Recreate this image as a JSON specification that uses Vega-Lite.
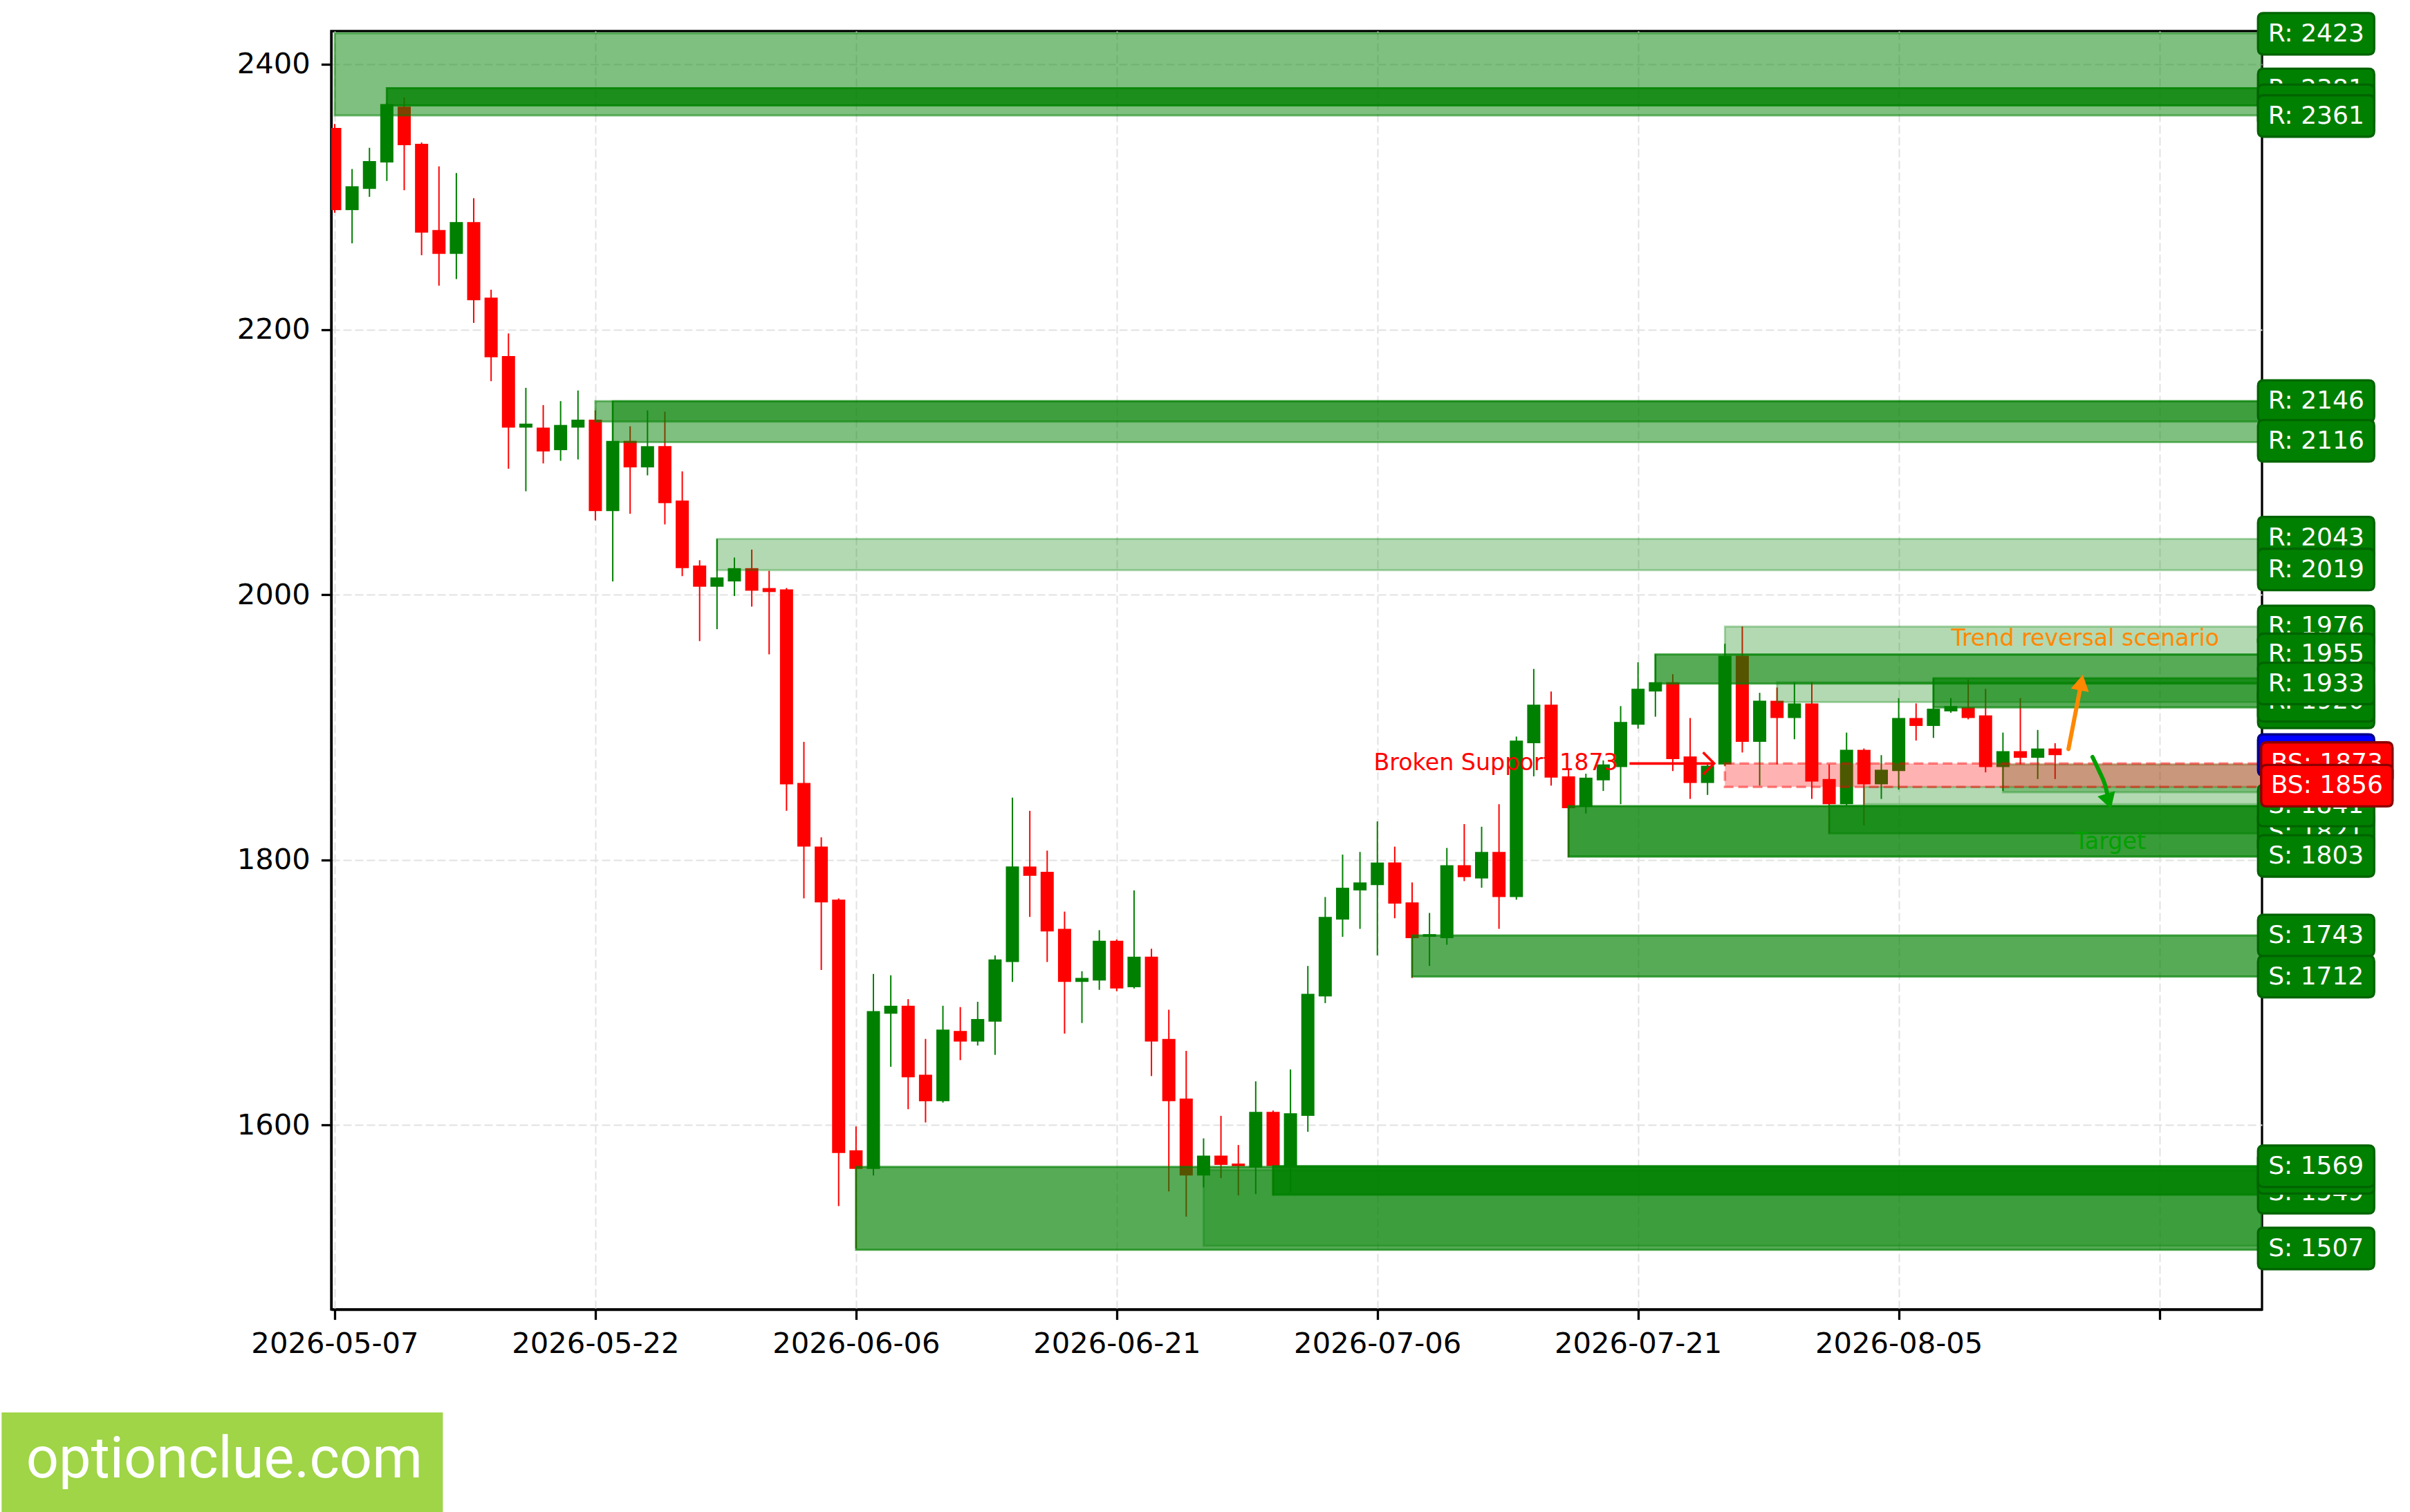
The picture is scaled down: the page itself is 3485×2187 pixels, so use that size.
{
  "$schema": "https://vega.github.io/schema/vega-lite/v6.json",
  "width": 2792,
  "height": 1849,
  "autosize": {"type": "none"},
  "padding": {"left": 479, "top": 45, "right": 214, "bottom": 293},
  "background": "white",
  "config": {
    "view": {"stroke": "#000000", "strokeWidth": 3.3},
    "axis": {
      "labelFont": "DejaVu Sans", "labelFontSize": 41.7, "labelColor": "#000000", "labelLimit": 0,
      "domainColor": "#000000", "domainWidth": 3.3,
      "tickColor": "#000000", "tickWidth": 3.3, "tickSize": 14.6,
      "gridColor": "#e2e2e2", "gridDash": [12, 5], "gridWidth": 2
    },
    "text": {"font": "DejaVu Sans"}
  },
  "datasets": {
    "candles": [
      {"date":"2026-05-07","open":2352,"high":2355,"low":2288,"close":2290},
      {"date":"2026-05-08","open":2290,"high":2321,"low":2265,"close":2308},
      {"date":"2026-05-09","open":2306,"high":2337,"low":2300,"close":2327},
      {"date":"2026-05-10","open":2326,"high":2371,"low":2312,"close":2370},
      {"date":"2026-05-11","open":2368,"high":2375,"low":2305,"close":2339},
      {"date":"2026-05-12","open":2340,"high":2341,"low":2256,"close":2273},
      {"date":"2026-05-13","open":2275,"high":2323,"low":2233,"close":2257},
      {"date":"2026-05-14","open":2257,"high":2318,"low":2238,"close":2281},
      {"date":"2026-05-15","open":2281,"high":2299,"low":2205,"close":2222},
      {"date":"2026-05-16","open":2224,"high":2230,"low":2161,"close":2179},
      {"date":"2026-05-17","open":2180,"high":2197,"low":2095,"close":2126},
      {"date":"2026-05-18","open":2126,"high":2156,"low":2078,"close":2129},
      {"date":"2026-05-19","open":2126,"high":2143,"low":2099,"close":2108},
      {"date":"2026-05-20","open":2109,"high":2146,"low":2101,"close":2128},
      {"date":"2026-05-21","open":2126,"high":2154,"low":2102,"close":2132},
      {"date":"2026-05-22","open":2132,"high":2139,"low":2056,"close":2063},
      {"date":"2026-05-23","open":2063,"high":2146,"low":2010,"close":2116},
      {"date":"2026-05-24","open":2116,"high":2127,"low":2061,"close":2096},
      {"date":"2026-05-25","open":2096,"high":2139,"low":2090,"close":2112},
      {"date":"2026-05-26","open":2112,"high":2138,"low":2053,"close":2069},
      {"date":"2026-05-27","open":2071,"high":2093,"low":2014,"close":2020},
      {"date":"2026-05-28","open":2022,"high":2026,"low":1965,"close":2006},
      {"date":"2026-05-29","open":2006,"high":2042,"low":1974,"close":2013},
      {"date":"2026-05-30","open":2010,"high":2028,"low":1999,"close":2020},
      {"date":"2026-05-31","open":2020,"high":2034,"low":1991,"close":2003},
      {"date":"2026-06-01","open":2005,"high":2018,"low":1955,"close":2002},
      {"date":"2026-06-02","open":2004,"high":2005,"low":1837,"close":1857},
      {"date":"2026-06-03","open":1858,"high":1889,"low":1771,"close":1810},
      {"date":"2026-06-04","open":1810,"high":1817,"low":1717,"close":1768},
      {"date":"2026-06-05","open":1770,"high":1771,"low":1539,"close":1579},
      {"date":"2026-06-06","open":1581,"high":1599,"low":1507,"close":1567},
      {"date":"2026-06-07","open":1567,"high":1714,"low":1562,"close":1686},
      {"date":"2026-06-08","open":1684,"high":1713,"low":1644,"close":1690},
      {"date":"2026-06-09","open":1690,"high":1695,"low":1612,"close":1636},
      {"date":"2026-06-10","open":1638,"high":1665,"low":1602,"close":1618},
      {"date":"2026-06-11","open":1618,"high":1690,"low":1617,"close":1672},
      {"date":"2026-06-12","open":1671,"high":1689,"low":1649,"close":1663},
      {"date":"2026-06-13","open":1663,"high":1693,"low":1660,"close":1680},
      {"date":"2026-06-14","open":1678,"high":1728,"low":1653,"close":1725},
      {"date":"2026-06-15","open":1723,"high":1847,"low":1708,"close":1795},
      {"date":"2026-06-16","open":1795,"high":1837,"low":1757,"close":1788},
      {"date":"2026-06-17","open":1791,"high":1807,"low":1723,"close":1746},
      {"date":"2026-06-18","open":1748,"high":1761,"low":1669,"close":1708},
      {"date":"2026-06-19","open":1708,"high":1716,"low":1677,"close":1711},
      {"date":"2026-06-20","open":1709,"high":1747,"low":1702,"close":1739},
      {"date":"2026-06-21","open":1739,"high":1740,"low":1701,"close":1703},
      {"date":"2026-06-22","open":1704,"high":1777,"low":1703,"close":1727},
      {"date":"2026-06-23","open":1727,"high":1733,"low":1637,"close":1663},
      {"date":"2026-06-24","open":1665,"high":1687,"low":1550,"close":1618},
      {"date":"2026-06-25","open":1620,"high":1656,"low":1531,"close":1562},
      {"date":"2026-06-26","open":1562,"high":1590,"low":1553,"close":1577},
      {"date":"2026-06-27","open":1577,"high":1607,"low":1560,"close":1570},
      {"date":"2026-06-28","open":1571,"high":1585,"low":1547,"close":1569},
      {"date":"2026-06-29","open":1568,"high":1633,"low":1548,"close":1610},
      {"date":"2026-06-30","open":1610,"high":1611,"low":1547,"close":1569},
      {"date":"2026-07-01","open":1569,"high":1642,"low":1549,"close":1609},
      {"date":"2026-07-02","open":1607,"high":1720,"low":1595,"close":1699},
      {"date":"2026-07-03","open":1697,"high":1772,"low":1692,"close":1757},
      {"date":"2026-07-04","open":1755,"high":1804,"low":1742,"close":1779},
      {"date":"2026-07-05","open":1777,"high":1806,"low":1748,"close":1783},
      {"date":"2026-07-06","open":1781,"high":1829,"low":1728,"close":1798},
      {"date":"2026-07-07","open":1798,"high":1810,"low":1756,"close":1767},
      {"date":"2026-07-08","open":1768,"high":1783,"low":1711,"close":1741},
      {"date":"2026-07-09","open":1742,"high":1760,"low":1720,"close":1744},
      {"date":"2026-07-10","open":1741,"high":1809,"low":1736,"close":1796},
      {"date":"2026-07-11","open":1796,"high":1827,"low":1784,"close":1787},
      {"date":"2026-07-12","open":1786,"high":1825,"low":1779,"close":1806},
      {"date":"2026-07-13","open":1806,"high":1842,"low":1748,"close":1772},
      {"date":"2026-07-14","open":1772,"high":1893,"low":1770,"close":1890},
      {"date":"2026-07-15","open":1888,"high":1944,"low":1863,"close":1917},
      {"date":"2026-07-16","open":1917,"high":1927,"low":1856,"close":1862},
      {"date":"2026-07-17","open":1863,"high":1868,"low":1802,"close":1839},
      {"date":"2026-07-18","open":1840,"high":1865,"low":1835,"close":1862},
      {"date":"2026-07-19","open":1860,"high":1875,"low":1852,"close":1872},
      {"date":"2026-07-20","open":1870,"high":1916,"low":1842,"close":1904},
      {"date":"2026-07-21","open":1902,"high":1949,"low":1899,"close":1929},
      {"date":"2026-07-22","open":1927,"high":1955,"low":1908,"close":1934},
      {"date":"2026-07-23","open":1934,"high":1940,"low":1867,"close":1876},
      {"date":"2026-07-24","open":1878,"high":1907,"low":1846,"close":1858},
      {"date":"2026-07-25","open":1858,"high":1873,"low":1849,"close":1871},
      {"date":"2026-07-26","open":1872,"high":1963,"low":1871,"close":1954},
      {"date":"2026-07-27","open":1954,"high":1976,"low":1881,"close":1889},
      {"date":"2026-07-28","open":1889,"high":1926,"low":1856,"close":1920},
      {"date":"2026-07-29","open":1920,"high":1930,"low":1872,"close":1907},
      {"date":"2026-07-30","open":1907,"high":1934,"low":1891,"close":1918},
      {"date":"2026-07-31","open":1918,"high":1934,"low":1846,"close":1859},
      {"date":"2026-08-01","open":1861,"high":1872,"low":1820,"close":1842},
      {"date":"2026-08-02","open":1842,"high":1896,"low":1841,"close":1883},
      {"date":"2026-08-03","open":1883,"high":1884,"low":1826,"close":1857},
      {"date":"2026-08-04","open":1857,"high":1879,"low":1846,"close":1868},
      {"date":"2026-08-05","open":1867,"high":1922,"low":1853,"close":1907},
      {"date":"2026-08-06","open":1907,"high":1918,"low":1890,"close":1901},
      {"date":"2026-08-07","open":1901,"high":1937,"low":1892,"close":1914},
      {"date":"2026-08-08","open":1912,"high":1922,"low":1911,"close":1916},
      {"date":"2026-08-09","open":1915,"high":1936,"low":1906,"close":1907},
      {"date":"2026-08-10","open":1909,"high":1929,"low":1866,"close":1870},
      {"date":"2026-08-11","open":1870,"high":1896,"low":1852,"close":1882},
      {"date":"2026-08-12","open":1882,"high":1922,"low":1872,"close":1877},
      {"date":"2026-08-13","open":1877,"high":1898,"low":1861,"close":1884},
      {"date":"2026-08-14","open":1884,"high":1888,"low":1861,"close":1879}
    ],
    "zones": [
      {"kind":"R","start":"2026-05-07","top":2423.5,"bottom":2361.4,"strength":"moderate"},
      {"kind":"R","start":"2026-05-10","top":2382,"bottom":2369,"strength":"major"},
      {"kind":"R","start":"2026-05-22","top":2146,"bottom":2130.5,"strength":"moderate"},
      {"kind":"R","start":"2026-05-23","top":2146,"bottom":2115,"strength":"moderate"},
      {"kind":"R","start":"2026-05-29","top":2042,"bottom":2018.5,"strength":"weak"},
      {"kind":"R","start":"2026-07-22","top":1955,"bottom":1933,"strength":"strong"},
      {"kind":"R","start":"2026-07-26","top":1976,"bottom":1954.5,"strength":"weak"},
      {"kind":"R","start":"2026-07-29","top":1934,"bottom":1919,"strength":"weak"},
      {"kind":"R","start":"2026-08-07","top":1937,"bottom":1915,"strength":"strong"},
      {"kind":"S","start":"2026-06-06","top":1568.5,"bottom":1506,"strength":"strong"},
      {"kind":"S","start":"2026-06-26","top":1566,"bottom":1509,"strength":"weak"},
      {"kind":"S","start":"2026-06-30","top":1569,"bottom":1547.5,"strength":"extreme"},
      {"kind":"S","start":"2026-07-08","top":1743,"bottom":1712,"strength":"strong"},
      {"kind":"S","start":"2026-07-17","top":1840.5,"bottom":1802.5,"strength":"major"},
      {"kind":"S","start":"2026-08-01","top":1841,"bottom":1820,"strength":"moderate"},
      {"kind":"S","start":"2026-08-03","top":1855,"bottom":1842,"strength":"weak"},
      {"kind":"S","start":"2026-08-11","top":1872,"bottom":1851,"strength":"weak"}
    ],
    "broken": [
      {"kind":"BS","start":"2026-07-26","top":1872.7,"bottom":1855}
    ],
    "labels_back": [
      {"kind":"R","level":2423,"text":"R: 2423"},
      {"kind":"R","level":2381,"text":"R: 2381"},
      {"kind":"R","level":2146,"text":"R: 2146"},
      {"kind":"R","level":2043,"text":"R: 2043"},
      {"kind":"R","level":1976,"text":"R: 1976"},
      {"kind":"R","level":1915,"text":"R: 1915"},
      {"kind":"P","level":1879,"text":"P: 1879"},
      {"kind":"S","level":1821,"text":"S: 1821"},
      {"kind":"S","level":1743,"text":"S: 1743"},
      {"kind":"S","level":1549,"text":"S: 1549"},
      {"kind":"S","level":1507,"text":"S: 1507"}
    ],
    "labels_mid": [
      {"kind":"R","level":2369,"text":"R: 2369"},
      {"kind":"R","level":2116,"text":"R: 2116"},
      {"kind":"R","level":2019,"text":"R: 2019"},
      {"kind":"R","level":1955,"text":"R: 1955"},
      {"kind":"R","level":1920,"text":"R: 1920"},
      {"kind":"S","level":1841,"text":"S: 1841"},
      {"kind":"S","level":1712,"text":"S: 1712"},
      {"kind":"S","level":1564,"text":"S: 1564"}
    ],
    "labels_front": [
      {"kind":"R","level":2361,"text":"R: 2361"},
      {"kind":"R","level":1933,"text":"R: 1933"},
      {"kind":"S","level":1803,"text":"S: 1803"},
      {"kind":"S","level":1569,"text":"S: 1569"}
    ],
    "labels_bs_back": [
      {"kind":"BS","level":1873,"text":"BS: 1873"}
    ],
    "labels_bs_front": [
      {"kind":"BS","level":1856,"text":"BS: 1856"}
    ]
  },
  "layer": [
    {
      "data": {"name": "candles"},
      "mark": {"type": "rule", "strokeWidth": 2, "clip": true},
      "encoding": {
        "x": {"field": "date", "type": "temporal",
              "scale": {"type": "utc", "nice": false, "domain": [{"year":2026,"month":5,"date":7,"utc":true},{"year":2026,"month":8,"date":25,"hours":17,"utc":true}]},
              "axis": {"title": null, "grid": true, "labelFlush": false, "labelOverlap": false, "labelPadding": 14.6, "labelLimit": 0,
                       "values": [{"year":2026,"month":5,"date":7,"utc":true},{"year":2026,"month":5,"date":22,"utc":true},{"year":2026,"month":6,"date":6,"utc":true},{"year":2026,"month":6,"date":21,"utc":true},{"year":2026,"month":7,"date":6,"utc":true},{"year":2026,"month":7,"date":21,"utc":true},{"year":2026,"month":8,"date":5,"utc":true},{"year":2026,"month":8,"date":20,"utc":true}],
                       "labelExpr": "utcFormat(datum.value, '%m-%d') == '08-20' ? '' : utcFormat(datum.value, '%Y-%m-%d')"}},
        "y": {"field": "low", "type": "quantitative",
              "scale": {"domain": [1461, 2425], "nice": false, "zero": false},
              "axis": {"title": null, "grid": true, "values": [1600, 1800, 2000, 2200, 2400], "format": "d", "labelPadding": 16, "labelLimit": 0}},
        "y2": {"field": "high"},
        "color": {"condition": {"test": "datum.close >= datum.open", "value": "#008000"}, "value": "#ff0000"}
      }
    },
    {
      "data": {"name": "candles"},
      "mark": {"type": "bar", "width": 19, "clip": true},
      "encoding": {
        "x": {"field": "date", "type": "temporal", "scale": {"type": "utc", "nice": false, "domain": [{"year":2026,"month":5,"date":7,"utc":true},{"year":2026,"month":8,"date":25,"hours":17,"utc":true}]}},
        "y": {"field": "open", "type": "quantitative", "scale": {"domain": [1461, 2425], "nice": false, "zero": false}},
        "y2": {"field": "close"},
        "color": {"condition": {"test": "datum.close >= datum.open", "value": "#008000"}, "value": "#ff0000"}
      }
    },
    {
      "data": {"name": "zones"},
      "mark": {"type": "rect", "fill": "#008000", "stroke": "#008000", "strokeWidth": 3, "clip": true},
      "encoding": {
        "x": {"field": "start", "type": "temporal", "scale": {"type": "utc", "nice": false, "domain": [{"year":2026,"month":5,"date":7,"utc":true},{"year":2026,"month":8,"date":25,"hours":17,"utc":true}]}},
        "x2": {"value": "width"},
        "y": {"field": "top", "type": "quantitative", "scale": {"domain": [1461, 2425], "nice": false, "zero": false}},
        "y2": {"field": "bottom"},
        "fillOpacity": {"field": "strength", "type": "nominal", "scale": {"type": "ordinal", "domain": ["weak","moderate","strong","major","extreme"], "range": [0.3, 0.5, 0.66, 0.78, 0.85]}, "legend": null},
        "strokeOpacity": {"field": "strength", "type": "nominal", "scale": {"type": "ordinal", "domain": ["weak","moderate","strong","major","extreme"], "range": [0.3, 0.5, 0.66, 0.78, 0.85]}, "legend": null}
      }
    },
    {
      "data": {"name": "broken"},
      "mark": {"type": "rect", "fill": "#ff0000", "fillOpacity": 0.3, "stroke": "#ff0000", "strokeOpacity": 0.45, "strokeWidth": 3.5, "strokeDash": [14, 7], "clip": true},
      "encoding": {
        "x": {"field": "start", "type": "temporal", "scale": {"type": "utc", "nice": false, "domain": [{"year":2026,"month":5,"date":7,"utc":true},{"year":2026,"month":8,"date":25,"hours":17,"utc":true}]}},
        "x2": {"value": "width"},
        "y": {"field": "top", "type": "quantitative", "scale": {"domain": [1461, 2425], "nice": false, "zero": false}},
        "y2": {"field": "bottom"}
      }
    },
    {
      "data": {"values": [
        {"t1":"2026-07-20T12:14:00Z","t2":"2026-07-25T09:07:00Z","p":1872.7}
      ]},
      "mark": {"type": "rule", "color": "#ff0000", "strokeWidth": 3.6},
      "encoding": {
        "x": {"field": "t1", "type": "temporal", "scale": {"type": "utc", "nice": false, "domain": [{"year":2026,"month":5,"date":7,"utc":true},{"year":2026,"month":8,"date":25,"hours":17,"utc":true}]}},
        "x2": {"field": "t2"},
        "y": {"field": "p", "type": "quantitative", "scale": {"domain": [1461, 2425], "nice": false, "zero": false}}
      }
    },
    {
      "data": {"values": [
        {"t":"2026-07-25T09:07:00Z","p":1872.7}
      ]},
      "mark": {"type": "point", "shape": "M -1 -1 L 0 0 L -1 1", "size": 1024, "filled": false, "color": "#ff0000", "strokeWidth": 3.6, "opacity": 1},
      "encoding": {
        "x": {"field": "t", "type": "temporal", "scale": {"type": "utc", "nice": false, "domain": [{"year":2026,"month":5,"date":7,"utc":true},{"year":2026,"month":8,"date":25,"hours":17,"utc":true}]}},
        "y": {"field": "p", "type": "quantitative", "scale": {"domain": [1461, 2425], "nice": false, "zero": false}}
      }
    },
    {
      "data": {"values": [
        {"arrow":"reversal","t":"2026-08-14T18:30:00Z","p":1883.6},
        {"arrow":"reversal","t":"2026-08-15T12:14:00Z","p":1933.7},
        {"arrow":"target","t":"2026-08-16T03:43:00Z","p":1877.6},
        {"arrow":"target","t":"2026-08-16T13:12:00Z","p":1866.6},
        {"arrow":"target","t":"2026-08-16T20:53:00Z","p":1856.7},
        {"arrow":"target","t":"2026-08-17T01:41:00Z","p":1845.8}
      ]},
      "mark": {"type": "line", "strokeWidth": 6, "strokeCap": "round", "interpolate": "monotone"},
      "encoding": {
        "x": {"field": "t", "type": "temporal", "scale": {"type": "utc", "nice": false, "domain": [{"year":2026,"month":5,"date":7,"utc":true},{"year":2026,"month":8,"date":25,"hours":17,"utc":true}]}},
        "y": {"field": "p", "type": "quantitative", "scale": {"domain": [1461, 2425], "nice": false, "zero": false}},
        "color": {"field": "arrow", "type": "nominal", "scale": {"domain": ["reversal", "target"], "range": ["#ff8800", "#00a000"]}, "legend": null}
      }
    },
    {
      "data": {"values": [{"t":"2026-08-15T12:14:00Z","p":1933.7}]},
      "mark": {"type": "point", "shape": "triangle-up", "angle": 11, "size": 700, "filled": true, "color": "#ff8800", "opacity": 1},
      "encoding": {
        "x": {"field": "t", "type": "temporal", "scale": {"type": "utc", "nice": false, "domain": [{"year":2026,"month":5,"date":7,"utc":true},{"year":2026,"month":8,"date":25,"hours":17,"utc":true}]}},
        "y": {"field": "p", "type": "quantitative", "scale": {"domain": [1461, 2425], "nice": false, "zero": false}}
      }
    },
    {
      "data": {"values": [{"t":"2026-08-17T01:55:00Z","p":1844.2}]},
      "mark": {"type": "point", "shape": "triangle-down", "angle": -17, "size": 700, "filled": true, "color": "#00a000", "opacity": 1},
      "encoding": {
        "x": {"field": "t", "type": "temporal", "scale": {"type": "utc", "nice": false, "domain": [{"year":2026,"month":5,"date":7,"utc":true},{"year":2026,"month":8,"date":25,"hours":17,"utc":true}]}},
        "y": {"field": "p", "type": "quantitative", "scale": {"domain": [1461, 2425], "nice": false, "zero": false}}
      }
    },
    {
      "data": {"values": [{"note":"Broken Support 1873","t":"2026-07-19T20:24:00Z","p":1867.8}]},
      "mark": {"type": "text", "align": "right", "baseline": "alphabetic", "fontSize": 33.3, "color": "#ff0000"},
      "encoding": {
        "x": {"field": "t", "type": "temporal", "scale": {"type": "utc", "nice": false, "domain": [{"year":2026,"month":5,"date":7,"utc":true},{"year":2026,"month":8,"date":25,"hours":17,"utc":true}]}},
        "y": {"field": "p", "type": "quantitative", "scale": {"domain": [1461, 2425], "nice": false, "zero": false}},
        "text": {"field": "note"}
      }
    },
    {
      "data": {"values": [{"note":"Trend reversal scenario","t":"2026-08-15T17:31:00Z","p":1961.4}]},
      "mark": {"type": "text", "align": "center", "baseline": "alphabetic", "fontSize": 33.3, "color": "#ff8800"},
      "encoding": {
        "x": {"field": "t", "type": "temporal", "scale": {"type": "utc", "nice": false, "domain": [{"year":2026,"month":5,"date":7,"utc":true},{"year":2026,"month":8,"date":25,"hours":17,"utc":true}]}},
        "y": {"field": "p", "type": "quantitative", "scale": {"domain": [1461, 2425], "nice": false, "zero": false}},
        "text": {"field": "note"}
      }
    },
    {
      "data": {"values": [{"note":"Target","t":"2026-08-17T04:05:00Z","p":1808.1}]},
      "mark": {"type": "text", "align": "center", "baseline": "alphabetic", "fontSize": 33.3, "color": "#00a000"},
      "encoding": {
        "x": {"field": "t", "type": "temporal", "scale": {"type": "utc", "nice": false, "domain": [{"year":2026,"month":5,"date":7,"utc":true},{"year":2026,"month":8,"date":25,"hours":17,"utc":true}]}},
        "y": {"field": "p", "type": "quantitative", "scale": {"domain": [1461, 2425], "nice": false, "zero": false}},
        "text": {"field": "note"}
      }
    },
    {
      "data": {"name": "labels_back"},
      "layer": [
        {
          "mark": {"type": "point", "shape": "M -0.905 -0.357 L 0.905 -0.357 Q 1 -0.357 1 -0.262 L 1 0.262 Q 1 0.357 0.905 0.357 L -0.905 0.357 Q -1 0.357 -1 0.262 L -1 -0.262 Q -1 -0.357 -0.905 -0.357 Z", "size": 28224, "filled": true, "opacity": 1, "strokeWidth": 3.3},
          "encoding": {
            "x": {"datum": {"year":2026,"month":8,"date":29,"hours":0,"minutes":30,"utc":true}, "type": "temporal", "scale": {"type": "utc", "nice": false, "domain": [{"year":2026,"month":5,"date":7,"utc":true},{"year":2026,"month":8,"date":25,"hours":17,"utc":true}]}},
            "y": {"field": "level", "type": "quantitative", "scale": {"domain": [1461, 2425], "nice": false, "zero": false}},
            "fill": {"field": "kind", "type": "nominal", "scale": {"domain": ["R","S","P","BS"], "range": ["#008000","#008000","#0000ff","#ff0000"]}, "legend": null},
            "stroke": {"field": "kind", "type": "nominal", "scale": {"domain": ["R","S","P","BS"], "range": ["#006400","#006400","#00008b","#8b0000"]}, "legend": null}
          }
        },
        {
          "mark": {"type": "text", "fontSize": 36, "color": "#ffffff", "align": "center", "baseline": "middle"},
          "encoding": {
            "x": {"datum": {"year":2026,"month":8,"date":29,"hours":0,"minutes":30,"utc":true}, "type": "temporal", "scale": {"type": "utc", "nice": false, "domain": [{"year":2026,"month":5,"date":7,"utc":true},{"year":2026,"month":8,"date":25,"hours":17,"utc":true}]}},
            "y": {"field": "level", "type": "quantitative", "scale": {"domain": [1461, 2425], "nice": false, "zero": false}},
            "text": {"field": "text"}
          }
        }
      ]
    },
    {
      "data": {"name": "labels_mid"},
      "layer": [
        {
          "mark": {"type": "point", "shape": "M -0.905 -0.357 L 0.905 -0.357 Q 1 -0.357 1 -0.262 L 1 0.262 Q 1 0.357 0.905 0.357 L -0.905 0.357 Q -1 0.357 -1 0.262 L -1 -0.262 Q -1 -0.357 -0.905 -0.357 Z", "size": 28224, "filled": true, "opacity": 1, "strokeWidth": 3.3},
          "encoding": {
            "x": {"datum": {"year":2026,"month":8,"date":29,"hours":0,"minutes":30,"utc":true}, "type": "temporal", "scale": {"type": "utc", "nice": false, "domain": [{"year":2026,"month":5,"date":7,"utc":true},{"year":2026,"month":8,"date":25,"hours":17,"utc":true}]}},
            "y": {"field": "level", "type": "quantitative", "scale": {"domain": [1461, 2425], "nice": false, "zero": false}},
            "fill": {"field": "kind", "type": "nominal", "scale": {"domain": ["R","S","P","BS"], "range": ["#008000","#008000","#0000ff","#ff0000"]}, "legend": null},
            "stroke": {"field": "kind", "type": "nominal", "scale": {"domain": ["R","S","P","BS"], "range": ["#006400","#006400","#00008b","#8b0000"]}, "legend": null}
          }
        },
        {
          "mark": {"type": "text", "fontSize": 36, "color": "#ffffff", "align": "center", "baseline": "middle"},
          "encoding": {
            "x": {"datum": {"year":2026,"month":8,"date":29,"hours":0,"minutes":30,"utc":true}, "type": "temporal", "scale": {"type": "utc", "nice": false, "domain": [{"year":2026,"month":5,"date":7,"utc":true},{"year":2026,"month":8,"date":25,"hours":17,"utc":true}]}},
            "y": {"field": "level", "type": "quantitative", "scale": {"domain": [1461, 2425], "nice": false, "zero": false}},
            "text": {"field": "text"}
          }
        }
      ]
    },
    {
      "data": {"name": "labels_front"},
      "layer": [
        {
          "mark": {"type": "point", "shape": "M -0.905 -0.357 L 0.905 -0.357 Q 1 -0.357 1 -0.262 L 1 0.262 Q 1 0.357 0.905 0.357 L -0.905 0.357 Q -1 0.357 -1 0.262 L -1 -0.262 Q -1 -0.357 -0.905 -0.357 Z", "size": 28224, "filled": true, "opacity": 1, "strokeWidth": 3.3},
          "encoding": {
            "x": {"datum": {"year":2026,"month":8,"date":29,"hours":0,"minutes":30,"utc":true}, "type": "temporal", "scale": {"type": "utc", "nice": false, "domain": [{"year":2026,"month":5,"date":7,"utc":true},{"year":2026,"month":8,"date":25,"hours":17,"utc":true}]}},
            "y": {"field": "level", "type": "quantitative", "scale": {"domain": [1461, 2425], "nice": false, "zero": false}},
            "fill": {"field": "kind", "type": "nominal", "scale": {"domain": ["R","S","P","BS"], "range": ["#008000","#008000","#0000ff","#ff0000"]}, "legend": null},
            "stroke": {"field": "kind", "type": "nominal", "scale": {"domain": ["R","S","P","BS"], "range": ["#006400","#006400","#00008b","#8b0000"]}, "legend": null}
          }
        },
        {
          "mark": {"type": "text", "fontSize": 36, "color": "#ffffff", "align": "center", "baseline": "middle"},
          "encoding": {
            "x": {"datum": {"year":2026,"month":8,"date":29,"hours":0,"minutes":30,"utc":true}, "type": "temporal", "scale": {"type": "utc", "nice": false, "domain": [{"year":2026,"month":5,"date":7,"utc":true},{"year":2026,"month":8,"date":25,"hours":17,"utc":true}]}},
            "y": {"field": "level", "type": "quantitative", "scale": {"domain": [1461, 2425], "nice": false, "zero": false}},
            "text": {"field": "text"}
          }
        }
      ]
    },
    {
      "data": {"name": "labels_bs_back"},
      "layer": [
        {
          "mark": {"type": "point", "shape": "M -0.916 -0.316 L 0.916 -0.316 Q 1 -0.316 1 -0.232 L 1 0.232 Q 1 0.316 0.916 0.316 L -0.916 0.316 Q -1 0.316 -1 0.232 L -1 -0.232 Q -1 -0.316 -0.916 -0.316 Z", "size": 36100, "filled": true, "opacity": 1, "strokeWidth": 3.3},
          "encoding": {
            "x": {"datum": {"year":2026,"month":8,"date":29,"hours":15,"minutes":22,"utc":true}, "type": "temporal", "scale": {"type": "utc", "nice": false, "domain": [{"year":2026,"month":5,"date":7,"utc":true},{"year":2026,"month":8,"date":25,"hours":17,"utc":true}]}},
            "y": {"field": "level", "type": "quantitative", "scale": {"domain": [1461, 2425], "nice": false, "zero": false}},
            "fill": {"field": "kind", "type": "nominal", "scale": {"domain": ["R","S","P","BS"], "range": ["#008000","#008000","#0000ff","#ff0000"]}, "legend": null},
            "stroke": {"field": "kind", "type": "nominal", "scale": {"domain": ["R","S","P","BS"], "range": ["#006400","#006400","#00008b","#8b0000"]}, "legend": null}
          }
        },
        {
          "mark": {"type": "text", "fontSize": 36, "color": "#ffffff", "align": "center", "baseline": "middle"},
          "encoding": {
            "x": {"datum": {"year":2026,"month":8,"date":29,"hours":15,"minutes":22,"utc":true}, "type": "temporal", "scale": {"type": "utc", "nice": false, "domain": [{"year":2026,"month":5,"date":7,"utc":true},{"year":2026,"month":8,"date":25,"hours":17,"utc":true}]}},
            "y": {"field": "level", "type": "quantitative", "scale": {"domain": [1461, 2425], "nice": false, "zero": false}},
            "text": {"field": "text"}
          }
        }
      ]
    },
    {
      "data": {"name": "labels_bs_front"},
      "layer": [
        {
          "mark": {"type": "point", "shape": "M -0.916 -0.316 L 0.916 -0.316 Q 1 -0.316 1 -0.232 L 1 0.232 Q 1 0.316 0.916 0.316 L -0.916 0.316 Q -1 0.316 -1 0.232 L -1 -0.232 Q -1 -0.316 -0.916 -0.316 Z", "size": 36100, "filled": true, "opacity": 1, "strokeWidth": 3.3},
          "encoding": {
            "x": {"datum": {"year":2026,"month":8,"date":29,"hours":15,"minutes":22,"utc":true}, "type": "temporal", "scale": {"type": "utc", "nice": false, "domain": [{"year":2026,"month":5,"date":7,"utc":true},{"year":2026,"month":8,"date":25,"hours":17,"utc":true}]}},
            "y": {"field": "level", "type": "quantitative", "scale": {"domain": [1461, 2425], "nice": false, "zero": false}},
            "fill": {"field": "kind", "type": "nominal", "scale": {"domain": ["R","S","P","BS"], "range": ["#008000","#008000","#0000ff","#ff0000"]}, "legend": null},
            "stroke": {"field": "kind", "type": "nominal", "scale": {"domain": ["R","S","P","BS"], "range": ["#006400","#006400","#00008b","#8b0000"]}, "legend": null}
          }
        },
        {
          "mark": {"type": "text", "fontSize": 36, "color": "#ffffff", "align": "center", "baseline": "middle"},
          "encoding": {
            "x": {"datum": {"year":2026,"month":8,"date":29,"hours":15,"minutes":22,"utc":true}, "type": "temporal", "scale": {"type": "utc", "nice": false, "domain": [{"year":2026,"month":5,"date":7,"utc":true},{"year":2026,"month":8,"date":25,"hours":17,"utc":true}]}},
            "y": {"field": "level", "type": "quantitative", "scale": {"domain": [1461, 2425], "nice": false, "zero": false}},
            "text": {"field": "text"}
          }
        }
      ]
    },
    {
      "data": {"values": [{"site": "optionclue.com"}]},
      "layer": [
        {
          "mark": {"type": "rect", "fill": "#9fd546"},
          "encoding": {
            "x": {"datum": {"year":2026,"month":4,"date":17,"hours":20,"utc":true}, "type": "temporal", "scale": {"type": "utc", "nice": false, "domain": [{"year":2026,"month":5,"date":7,"utc":true},{"year":2026,"month":8,"date":25,"hours":17,"utc":true}]}},
            "x2": {"datum": {"year":2026,"month":5,"date":13,"hours":5,"minutes":24,"utc":true}},
            "y": {"datum": 1383.3, "type": "quantitative", "scale": {"domain": [1461, 2425], "nice": false, "zero": false}},
            "y2": {"datum": 1290}
          }
        },
        {
          "mark": {"type": "text", "font": "Roboto", "fontSize": 83, "color": "#ffffff", "align": "left", "baseline": "alphabetic"},
          "encoding": {
            "x": {"datum": {"year":2026,"month":4,"date":19,"hours":5,"minutes":45,"utc":true}, "type": "temporal", "scale": {"type": "utc", "nice": false, "domain": [{"year":2026,"month":5,"date":7,"utc":true},{"year":2026,"month":8,"date":25,"hours":17,"utc":true}]}},
            "y": {"datum": 1334.3, "type": "quantitative", "scale": {"domain": [1461, 2425], "nice": false, "zero": false}},
            "text": {"field": "site"}
          }
        }
      ]
    }
  ]
}
